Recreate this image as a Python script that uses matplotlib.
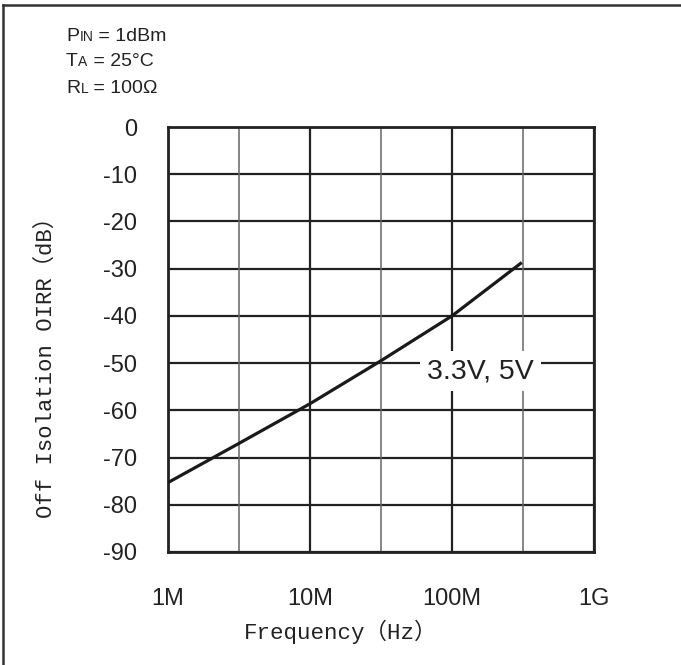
import matplotlib
matplotlib.use("Agg")
import matplotlib.pyplot as plt
from matplotlib.lines import Line2D
import numpy as np

# ---- data ----
freq_hz = [1e6, 3.16e6, 1e7, 3.16e7, 1e8, 3.1e8]
oirr_db = [-75.3, -67.0, -58.6, -49.5, -40.0, -28.7]
x_ticks = [1e6, 1e7, 1e8, 1e9]
x_tick_labels = ["1M", "10M", "100M", "1G"]
y_ticks = [0, -10, -20, -30, -40, -50, -60, -70, -80, -90]
half_decades = [10**6.5, 10**7.5, 10**8.5]
curve_label = "3.3V, 5V"
cond_lines = [("P", "IN", " = 1dBm"), ("T", "A", " = 25°C"), ("R", "L", " = 100Ω")]

W, H = 681, 665
fig = plt.figure(figsize=(W / 100, H / 100), dpi=100)
fig.patch.set_facecolor("white")

L, R, T, B = 168, 594, 127, 552
ax = fig.add_axes([L / W, 1 - B / H, (R - L) / W, (B - T) / H])
ax.set_xscale("log")
ax.set_xlim(1e6, 1e9)
ax.set_ylim(-90, 0)

dark = "#222222"
# grid
for y in y_ticks:
    ax.axhline(y, color=dark, lw=1.6, zorder=1)
for x in x_ticks:
    ax.axvline(x, color=dark, lw=1.6, zorder=1)
for x in half_decades:
    ax.axvline(x, color="#666666", lw=1.1, zorder=1)

for s in ax.spines.values():
    s.set_color(dark)
    s.set_linewidth(2.0)
    s.set_zorder(3)

ax.plot(freq_hz, oirr_db, color="#1a1a1a", lw=2.3, zorder=4, solid_capstyle="butt")

ax.set_xticks(x_ticks)
ax.set_xticklabels(x_tick_labels)
ax.set_yticks(y_ticks)
ax.set_yticklabels([str(v) for v in y_ticks])
ax.minorticks_off()
ax.tick_params(axis="both", length=0, labelsize=17, labelcolor=dark)
ax.tick_params(axis="x", pad=26)
ax.tick_params(axis="y", pad=22)
for lab in ax.get_xticklabels() + ax.get_yticklabels():
    lab.set_family("Liberation Sans")

# curve annotation with white box
ax.text(10**8.2, -51.7, curve_label, fontsize=20.5, family="Liberation Sans",
        color=dark, ha="center", va="center", zorder=5,
        bbox=dict(boxstyle="square,pad=0.25", fc="white", ec="none"))

# axis labels (placed in figure pixels)
lab_font = ["Liberation Mono", "Noto Sans CJK SC"]
fig.text(341 / W, 1 - 632 / H, "Frequency（Hz）", family=lab_font, fontsize=16.2,
         color=dark, ha="center", va="center")
fig.text(46 / W, 1 - 362 / H, "Off Isolation OIRR（dB）", family=lab_font,
         fontsize=16, color=dark, ha="center", va="center", rotation=90)

# conditions text
baselines = [41, 66, 93]
for (big, sub, rest), yb in zip(cond_lines, baselines):
    t1 = fig.text(66 / W, 1 - yb / H, big, family="Liberation Sans", fontsize=14,
                  color=dark, ha="left", va="baseline")
    t2 = fig.text(0, 0, sub, family="Liberation Sans", fontsize=10, color=dark,
                  ha="left", va="baseline")
    fig.canvas.draw()
    bb = t1.get_window_extent()
    t2.set_position(((bb.x1 + 0.5) / W, (1 - yb / H)))
    fig.canvas.draw()
    bb2 = t2.get_window_extent()
    fig.text((bb2.x1) / W, 1 - yb / H, rest, family="Liberation Sans", fontsize=14,
             color=dark, ha="left", va="baseline")

# outer frame (top and left edges)
fig.add_artist(Line2D([3 / W, 1.0], [1 - 5 / H, 1 - 5 / H], transform=fig.transFigure,
                      color="#333333", lw=1.8))
fig.add_artist(Line2D([3 / W, 3 / W], [0, 1 - 5 / H], transform=fig.transFigure,
                      color="#333333", lw=1.8))

fig.savefig("out.png", dpi=100, facecolor="white")
